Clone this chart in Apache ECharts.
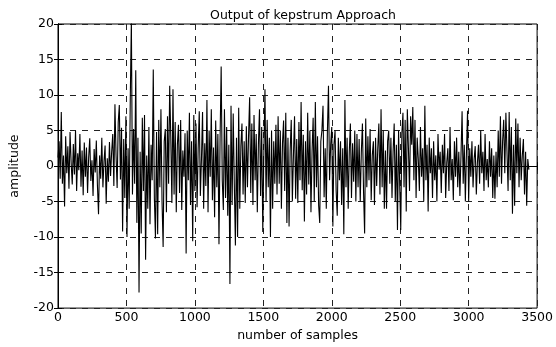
<!DOCTYPE html>
<html><head><meta charset="utf-8">
<script src="https://cdn.jsdelivr.net/npm/echarts@6/dist/echarts.min.js"></script>
<style>html,body{margin:0;padding:0;background:#fff}#c{width:556px;height:347px}</style>
</head><body><div id="c"></div>
<script>
// amplitude values, one value every 8 samples
var sampleStep = 8;
var seg0000 = [1.2, 3.5, -1.8, 7.6, -2.5, 1.5, -5.7, 4.2, -1.0, 2.8, -3.2, 4.8, 0.5, -2.6, 3.1, -1.2, 5.0, -3.5, 1.8, -0.6, 4.5, -2.9, 2.2, -4.1, 3.3];
var seg0200 = [-1.5, 2.6, -3.8, 1.2, 3.9, -2.1, 0.8, -4.2, 2.4, -0.9, 3.6, -2.7, -6.8, 1.5, -1.8, 4.0, -3.0, 0.6, 2.9, -5.3, 1.1, -2.2, 3.4, -1.4, 2.0];
var seg0400 = [4.5, -2.8, 8.7, 1.5, -3.1, 6.2, 8.6, -1.9, 5.4, -9.2, 3.8, -4.5, 7.0, -10.0, 2.5, -6.0, 9.5, 20.5, -4.0, 5.2, -2.5, 13.5, -8.0, 4.0, -17.8];
var seg0600 = [2.0, -9.5, 6.8, -3.5, 7.2, -13.2, 1.5, -6.0, 5.5, -8.2, 3.0, -2.0, 13.6, -4.5, -10.2, 4.8, -9.6, 6.5, -3.0, 8.0, -5.0, -11.4, 3.5, 5.2, -6.5];
var seg0800 = [7.0, -2.5, 11.3, 4.0, -5.2, 10.8, -4.0, 6.2, -6.5, 3.0, 5.8, -3.8, 6.5, -6.2, 2.2, -1.5, 4.6, -12.3, 5.0, -2.0, 7.5, -5.5, 3.5, -10.6, 7.2];
var seg1000 = [-3.5, 6.0, -5.8, 2.5, 7.7, -4.2, 1.0, 7.6, -6.0, 3.2, -2.8, 9.3, -6.5, 5.0, -1.5, 8.0, -4.8, 2.6, -7.2, 6.4, -3.0, 4.5, -11.0, 3.8, 14.0];
var seg1200 = [-2.0, -6.2, 8.0, -4.5, 5.5, -7.0, 3.0, -16.6, 8.5, -5.5, 7.4, -2.5, -11.2, 4.0, -10.0, 8.2, -6.0, 2.8, 6.0, -4.0, 3.5, -5.2, 5.6, -3.0, 4.2];
var seg1400 = [9.7, -3.8, 6.0, -5.5, 7.2, -2.0, 4.5, -6.5, 3.0, 8.0, -4.2, 5.5, -9.3, 2.0, 10.8, -5.0, 6.5, -3.0, 4.0, -10.0, 5.0, -6.0, 3.5, -2.5, 5.8];
var seg1600 = [-4.0, 7.0, -2.5, 5.0, -6.0, 3.2, 6.4, -3.5, 7.5, -8.0, 4.0, -8.5, 2.2, 6.5, -5.0, 1.5, 7.0, -4.6, 3.8, -5.2, 6.2, -2.0, 9.0, -3.4, 4.4];
var seg1800 = [-7.8, 3.5, -4.0, 7.5, -2.6, 5.0, -6.5, 2.0, 6.8, -5.0, 9.0, -3.0, 4.2, -5.5, -8.0, 3.5, 5.0, 8.5, -4.4, 2.5, -6.0, 4.8, 11.3, -2.0, 3.0];
var seg2000 = [5.5, -8.5, 3.0, 5.0, -3.5, -7.0, 4.0, -2.0, 3.5, -5.5, 2.5, -9.6, 9.3, -3.0, 4.0, -6.0, 2.0, 6.0, -4.5, 3.2, -2.2, 5.0, -5.0, 4.5, -3.0];
var seg2200 = [3.8, -5.0, 2.0, 6.0, -3.5, -9.5, 6.7, -3.0, 4.2, -2.0, 5.2, -4.8, 1.5, 3.5, -5.5, 4.0, -2.8, 2.5, 6.0, -4.0, 8.0, -3.0, 5.0, -6.0, 2.2];
var seg2400 = [-6.0, 3.5, 5.0, -2.5, 4.0, -4.5, 2.0, 6.0, -5.0, 3.0, -9.0, 5.0, -2.5, -9.0, 4.5, 7.5, -3.0, 6.5, -6.4, 8.0, 2.5, -3.5, 7.0, 3.0, 8.3];
var seg2600 = [-2.0, 6.5, -4.5, 4.0, 1.0, -3.5, 5.5, -1.5, 2.5, -5.0, 8.5, -2.0, 3.0, -6.4, 4.0, -1.0, 2.5, -4.5, 3.5, -2.0, 1.5, -5.0, 4.5, -0.5, 2.0];
var seg2800 = [-3.8, 3.0, -1.0, 4.5, -4.5, 0.5, 2.5, -3.5, 5.5, -2.0, 1.0, -4.8, 3.5, -1.5, 4.0, -3.0, 2.0, -4.2, 1.5, 7.7, -2.5, 3.0, -5.0, 2.0, 7.8];
var seg3000 = [-5.0, 2.5, -1.5, 3.5, -3.0, 1.0, 2.8, -4.0, 0.5, 3.0, -2.5, 5.0, -1.0, 2.0, -3.5, 4.5, -2.0, 1.0, -3.0, 3.5, -1.5, 2.5, -4.5, 1.5, -4.6];
var seg3200 = [2.0, -3.0, 5.0, -1.5, 7.0, -2.5, 3.5, 6.5, -1.0, 7.5, 2.0, -3.5, 7.6, -2.0, 5.5, -6.7, 3.0, -5.6, 6.7, -1.0, 6.0, -3.0, 4.0, -2.0, 1.5, 3.8, -4.0, 2.0, -5.6, 1.0, -0.5];

var xTicks = [0, 500, 1000, 1500, 2000, 2500, 3000, 3500];
var yTicks = [-20, -15, -10, -5, 0, 5, 10, 15, 20];

var amplitude = [].concat(seg0000, seg0200, seg0400, seg0600, seg0800, seg1000, seg1200, seg1400,
  seg1600, seg1800, seg2000, seg2200, seg2400, seg2600, seg2800, seg3000, seg3200);
var points = amplitude.map(function (v, i) { return [i * sampleStep, v]; });

var font = '"DejaVu Sans", sans-serif';
var fs = 12.5;
var dash = { show: true, lineStyle: { color: '#222', type: [6, 6], width: 1 } };
var plain = function (v) { return String(v); };
var chart = echarts.init(document.getElementById('c'), null, { renderer: 'canvas' });
chart.setOption({
  animation: false,
  backgroundColor: '#fff',
  title: { text: 'Output of kepstrum Approach', left: 298, top: 4, textAlign: 'center',
    textStyle: { fontFamily: font, fontSize: fs, fontWeight: 'normal', color: '#000' } },
  grid: { left: 57, right: 17, top: 24, bottom: 34, show: true, borderColor: '#000', borderWidth: 1, backgroundColor: 'transparent' },
  xAxis: [{
    type: 'value', min: xTicks[0], max: xTicks[xTicks.length - 1], interval: 500,
    name: 'number of samples', nameLocation: 'middle', nameGap: 19,
    nameTextStyle: { fontFamily: font, fontSize: fs, color: '#000' },
    axisLine: { show: true, lineStyle: { color: '#000' } },
    axisTick: { show: true, inside: true, length: 4, lineStyle: { color: '#000' } },
    axisLabel: { fontFamily: font, fontSize: fs, color: '#000', margin: 3, formatter: plain },
    splitLine: dash
  }, {
    type: 'value', position: 'top', min: xTicks[0], max: xTicks[xTicks.length - 1], interval: 500,
    axisLine: { show: true, lineStyle: { color: '#000' } },
    axisTick: { show: true, inside: true, length: 4, lineStyle: { color: '#000' } },
    axisLabel: { show: false }, splitLine: { show: false }
  }],
  yAxis: [{
    type: 'value', min: yTicks[0], max: yTicks[yTicks.length - 1], interval: 5,
    name: 'amplitude', nameLocation: 'middle', nameGap: 37, nameRotate: 90,
    nameTextStyle: { fontFamily: font, fontSize: fs, color: '#000' },
    axisLine: { show: true, lineStyle: { color: '#000' } },
    axisTick: { show: true, inside: true, length: 4, lineStyle: { color: '#000' } },
    axisLabel: { fontFamily: font, fontSize: fs, color: '#000', margin: 4, formatter: plain },
    splitLine: dash
  }, {
    type: 'value', position: 'right', min: yTicks[0], max: yTicks[yTicks.length - 1], interval: 5,
    axisLine: { show: true, lineStyle: { color: '#000' } },
    axisTick: { show: true, inside: true, length: 4, lineStyle: { color: '#000' } },
    axisLabel: { show: false }, splitLine: { show: false }
  }],
  series: [{
    type: 'line', data: points, showSymbol: false, clip: true,
    lineStyle: { color: '#000', width: 1.1 }, z: 3
  }]
});
</script></body></html>
